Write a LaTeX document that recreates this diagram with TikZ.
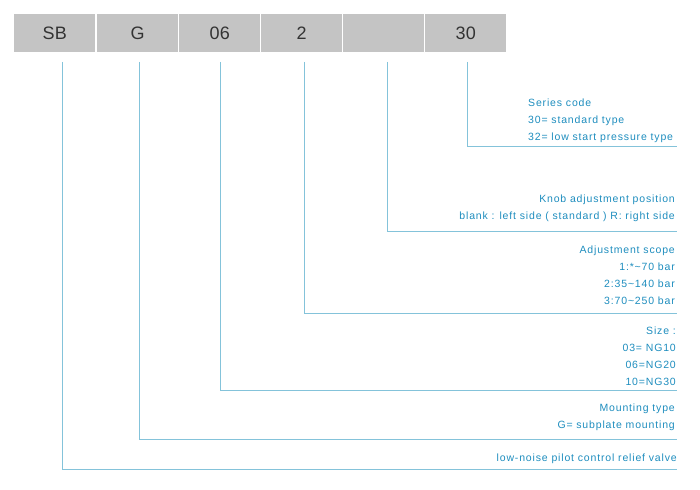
\documentclass[tikz,border=0pt]{standalone}
\usepackage{fontspec}
\setmainfont{Liberation Sans}[LetterSpace=8]
\newfontfamily\boxfont{Liberation Sans}[LetterSpace=2]
\definecolor{boxgray}{HTML}{C4C4C4}
\definecolor{codeblue}{HTML}{1E8DBE}
\definecolor{lineblue}{HTML}{84C3DA}
\tikzset{
 codebox/.style={fill=boxgray,minimum width=81pt,minimum height=38pt,inner sep=0pt,anchor=north west,font=\boxfont\fontsize{18}{18}\selectfont,text=black!80},
 lead/.style={lineblue,line width=1pt},
 note/.style={text=codeblue,font=\fontsize{10.5}{17}\selectfont,inner sep=0pt,align=right,anchor=south east},
}
\begin{document}
\begin{tikzpicture}[x=1pt,y=-1pt]
 \useasboundingbox (0,0) rectangle (700,489);
 \node[codebox] (sb) at (14,14) {SB};
 \node[codebox] (g) at (97,14) {G};
 \node[codebox] (size) at (179,14) {06};
 \node[codebox] (scope) at (261,14) {2};
 \node[codebox] (knob) at (343,14) {};
 \node[codebox] (series) at (425,14) {30};
 % leader lines
 \coordinate (sbend) at (677,469);
 \coordinate (gend) at (677,439);
 \coordinate (sizeend) at (677,390);
 \coordinate (scopeend) at (677,313);
 \coordinate (knobend) at (677,231);
 \coordinate (seriesend) at (677,147);
 \draw[lead] (62,62) |- (sbend);
 \draw[lead] (139,62) |- (gend);
 \draw[lead] (220,62) |- (sizeend);
 \draw[lead] (304,62) |- (scopeend);
 \draw[lead] (387,62) |- (knobend);
 \draw[lead] (467,62) |- (seriesend);
 % notes
 \node[note,align=left,anchor=south west] (seriesnote) at (528,143) {Series code\\30= standard type\\32= low start pressure type};
 \node[note] (knobnote) at (675,222) {Knob adjustment position\\blank : left side ( standard ) R: right side};
 \node[note] (scopenote) at (675,305) {Adjustment scope\\1:*\textasciitilde 70 bar\\2:35\textasciitilde 140 bar\\3:70\textasciitilde 250 bar};
 \node[note] (sizenote) at (676,386) {Size :\\03= NG10\\06=NG20\\10=NG30};
 \node[note] (gnote) at (675,431) {Mounting type\\G= subplate mounting};
 \node[note] (sbnote) at (677,464) {low-noise pilot control relief valve};
\end{tikzpicture}
\end{document}
